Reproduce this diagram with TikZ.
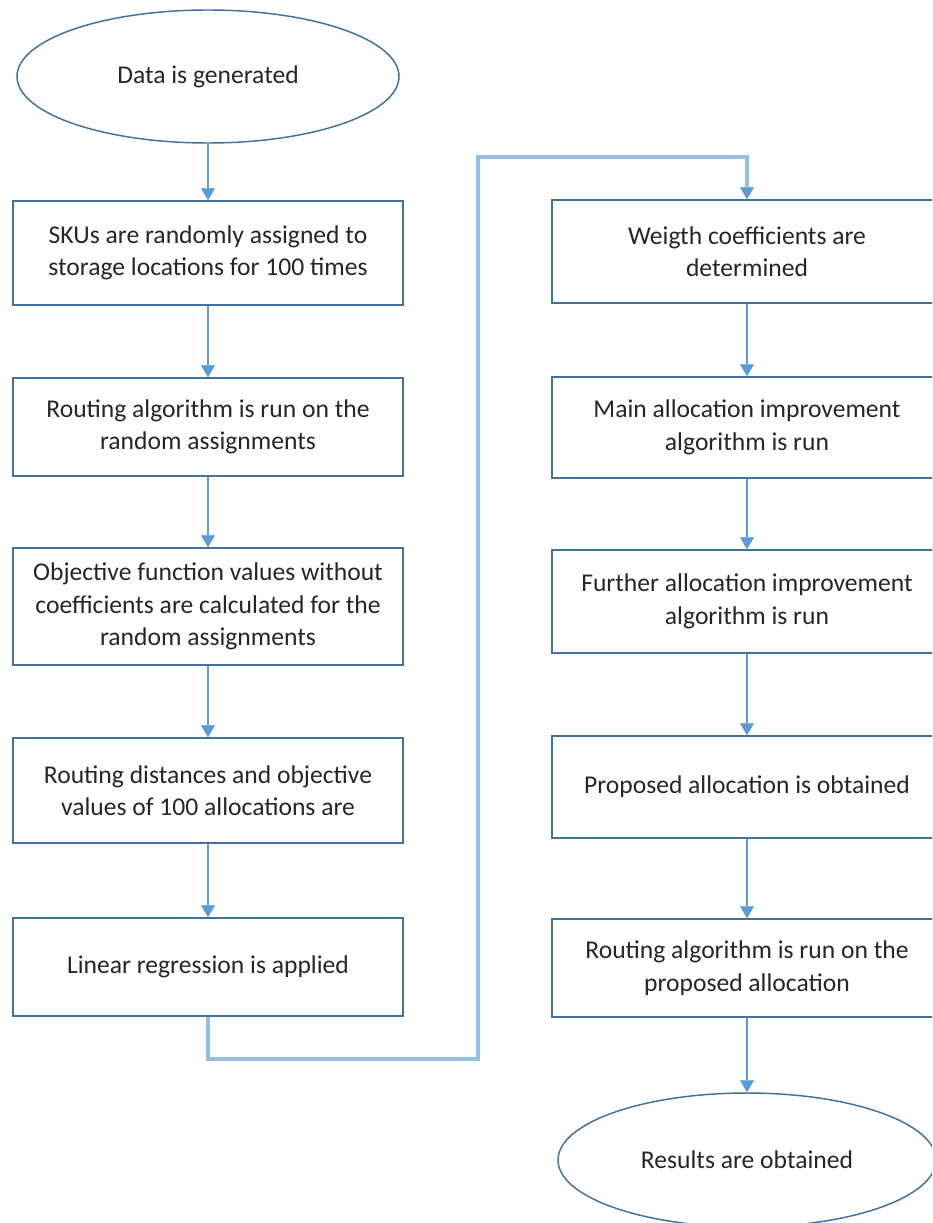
\documentclass[tikz,border=0pt]{standalone}
\usepackage{fontspec}
\setmainfont{Carlito}
\usetikzlibrary{shapes.geometric,arrows.meta}
\definecolor{boxline}{HTML}{41719C}
\definecolor{arrowc}{HTML}{5B9BD5}
\definecolor{linkc}{HTML}{93BEE6}
\begin{document}
\begin{tikzpicture}[x=0.75pt,y=-0.75pt,
  txt/.style={font=\fontsize{19.2}{24.4}\selectfont,text=black!85},
  stepbox/.style={txt,draw=boxline,line width=1.1pt,rectangle,minimum width=292.5pt,inner sep=0pt,align=center},
  term/.style={txt,draw=boxline,line width=1.1pt,ellipse,minimum width=286.5pt,minimum height=99.75pt,inner sep=0pt},
  flow/.style={draw=arrowc,line width=1.1pt,-{Triangle[width=10.5pt,length=9pt,line width=0.5pt]}},
  link/.style={draw=linkc,line width=2.6pt,line join=miter,-{Triangle[width=10.5pt,length=9pt,line width=0.5pt,color=arrowc]}}
]
\clip (0,0) rectangle (932,1223);
\fill[white] (0,0) rectangle (932,1223);
% left column
\node[term] (e1) at (208,76.5) {Data is generated};
\node[stepbox,minimum height=78pt] (b1) at (208,253) {SKUs are randomly assigned to\\storage locations for 100 times};
\node[stepbox,minimum height=73.5pt] (b2) at (208,427) {Routing algorithm is run on the\\random assignments};
\node[stepbox,minimum height=87.75pt] (b3) at (208,606.5) {Objective function values without\\coefficients are calculated for the\\random assignments};
\node[stepbox,minimum height=78.75pt] (b4) at (208,790.5) {Routing distances and objective\\values of 100 allocations are};
\node[stepbox,minimum height=73.5pt] (b5) at (208,967) {Linear regression is applied};
% right column
\node[stepbox,minimum height=77.25pt] (r1) at (747,251.5) {Weigth coefficients are\\determined};
\node[stepbox,minimum height=75.75pt] (r2) at (747,427.5) {Main allocation improvement\\algorithm is run};
\node[stepbox,minimum height=77.25pt] (r3) at (747,601.5) {Further allocation improvement\\algorithm is run};
\node[stepbox,minimum height=76.5pt] (r4) at (747,787) {Proposed allocation is obtained};
\node[stepbox,minimum height=73.5pt] (r5) at (747,968) {Routing algorithm is run on the\\proposed allocation};
\node[term,minimum width=283.5pt,minimum height=100.5pt] (e2) at (747,1160) {Results are obtained};
% connectors
\draw[flow] (e1) -- (b1);
\draw[flow] (b1) -- (b2);
\draw[flow] (b2) -- (b3);
\draw[flow] (b3) -- (b4);
\draw[flow] (b4) -- (b5);
\coordinate (c1) at (208,1059);
\coordinate (c2) at (478,1059);
\coordinate (c3) at (478,157);
\coordinate (c4) at (747,157);
\draw[link] (b5.south) -- (c1) -- (c2) -- (c3) -- (c4) -- (r1.north);
\draw[flow] (r1) -- (r2);
\draw[flow] (r2) -- (r3);
\draw[flow] (r3) -- (r4);
\draw[flow] (r4) -- (r5);
\draw[flow] (r5) -- (e2);
\end{tikzpicture}
\end{document}
